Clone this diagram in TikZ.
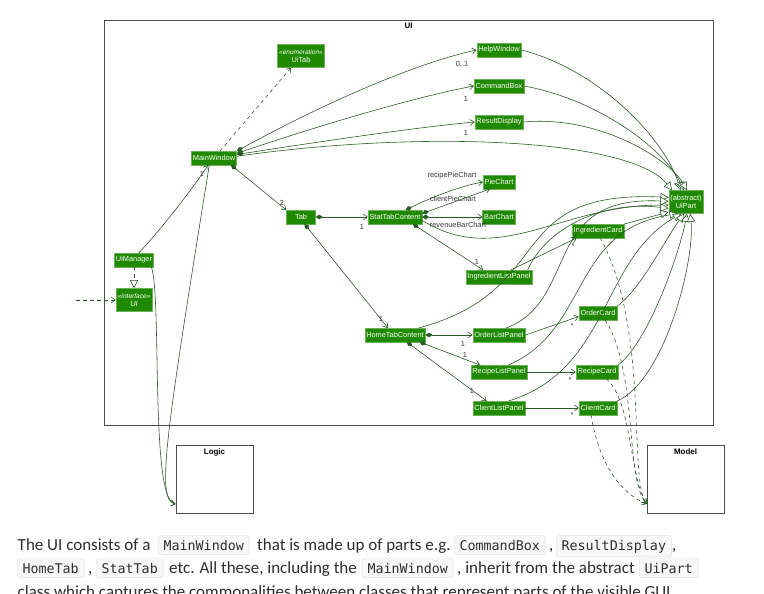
\documentclass[tikz,border=0pt]{standalone}
\usepackage{fontspec}
\setmainfont{Carlito}
\newfontfamily\umlfont{Liberation Sans}
\newfontfamily\codefont{DejaVu Sans Mono}
\usetikzlibrary{arrows.meta,fit}
\definecolor{umlgreen}{RGB}{31,137,0}
\definecolor{umlline}{RGB}{40,90,35}
\definecolor{umllabel}{RGB}{55,55,55}
\definecolor{codebg}{RGB}{248,248,248}
\definecolor{codeborder}{RGB}{222,222,222}

\begin{document}
\begin{tikzpicture}[x=0.03cm, y=-0.03cm,
    cls/.style={fill=umlgreen, draw=umlgreen!65!white, text=white, font=\umlfont\fontsize{6.3}{7.2}\selectfont, inner xsep=1.3pt, inner ysep=0pt, minimum height=11.5pt, align=center},
    pkg/.style={draw=black!70, line width=0.6pt, inner sep=0pt},
    pkgtitle/.style={font=\umlfont\bfseries\fontsize{6.8}{8}\selectfont, inner sep=0pt, below=3pt},
    lbl/.style={font=\umlfont\fontsize{6.3}{7}\selectfont, text=umllabel, inner sep=0pt},
    assoc/.style={draw=umlline, line width=0.5pt, -{Straight Barb[length=3.5pt,width=5pt]}},
    comp/.style={draw=umlline, line width=0.5pt, {Diamond[fill=umlline,length=6pt,width=4pt]}-{Straight Barb[length=3.5pt,width=5pt]}},
    ext/.style={draw=umlline, line width=0.5pt, -{Triangle[fill=white,length=7pt,width=7pt]}},
    dep/.style={assoc, dashed},
    body/.style={font=\fontsize{14.5}{17}\selectfont, text=black!82, anchor=base west, inner sep=0pt},
    code/.style={font=\codefont\fontsize{11.4}{14}\selectfont, fill=codebg, draw=codeborder, rounded corners=2pt, anchor=base west, inner xsep=4.5pt, inner ysep=3.5pt, text=black!82}
]
\fill[white] (0,0) rectangle (764,593);
\useasboundingbox (0,0) rectangle (764,593);

\node[pkg, fit={(104,20) (713,425)}] (uibox) {};
\node[pkgtitle] (uititle) at (uibox.north) {UI};
\node[pkg, fit={(176,445) (253,513)}] (logic) {};
\node[pkgtitle] (logictitle) at (logic.north) {Logic};
\node[pkg, fit={(647,445) (724,513)}] (model) {};
\node[pkgtitle] (modeltitle) at (model.north) {Model};

\node[cls, minimum height=19.5pt] (uitab) at (301,56) {{\itshape\fontsize{5.6}{6.4}\selectfont «enumeration»}\\UiTab};
\node[cls] (help) at (499,50) {HelpWindow};
\node[cls] (cmd) at (499,86) {CommandBox};
\node[cls] (res) at (499,122) {ResultDisplay};
\node[cls] (mw) at (214,158) {MainWindow};
\node[cls] (pie) at (499,182) {PieChart};
\node[cls] (bar) at (499,217) {BarChart};
\node[cls] (tab) at (301,217) {\hspace{6pt}Tab\hspace{6pt}};
\node[cls] (stat) at (395,217) {StatTabContent};
\node[cls, minimum height=19.5pt] (uipart) at (686,202) {(abstract)\\UiPart};
\node[cls] (icard) at (598,231) {IngredientCard};
\node[cls] (ipanel) at (499,277) {IngredientListPanel};
\node[cls] (uim) at (134,260) {UiManager};
\node[cls, minimum height=19.5pt] (uiif) at (134,300) {{\itshape\fontsize{5.6}{6.4}\selectfont «Interface»}\\{\itshape UI}};
\node[cls] (home) at (395,335) {HomeTabContent};
\node[cls] (opanel) at (499,335) {OrderListPanel};
\node[cls] (ocard) at (598,313) {OrderCard};
\node[cls] (rpanel) at (499,372) {RecipeListPanel};
\node[cls] (rcard) at (597,372) {RecipeCard};
\node[cls] (cpanel) at (499,408) {ClientListPanel};
\node[cls] (ccard) at (598,408) {ClientCard};
\coordinate (uisrc) at (76,300);

\draw[dep] (mw) -- (uitab);
\draw[comp] (mw.north east) .. controls (330,100) and (420,62) .. (help.west);
\node[lbl] (lhelp) at (462,64) {0..1};
\draw[comp] ([yshift=4pt]mw.east) .. controls (330,122) and (420,96) .. (cmd.west);
\node[lbl] (lcmd) at (466,99) {1};
\draw[comp] ([yshift=3pt]mw.east) .. controls (330,140) and (420,127) .. (res.west);
\node[lbl] (lres) at (466,133) {1};
\draw[ext] ([yshift=1.5pt]mw.east) .. controls (420,130) and (630,138) .. (uipart.140);
\draw[ext] (help.east) .. controls (600,70) and (665,140) .. (uipart.115);
\draw[ext] (cmd.east) .. controls (600,100) and (665,150) .. (uipart.100);
\draw[ext] (res.east) .. controls (600,115) and (670,160) .. (uipart.85);

\draw[comp] ([xshift=-5pt]mw.south east) -- (tab.north west);
\node[lbl] (ltab) at (282,203) {2};
\draw[comp] (tab.east) -- (stat.west);
\node[lbl] (lstat) at (362,227) {1};
\draw[comp] ([xshift=3pt]tab.south) -- ([xshift=-6pt]home.north);
\node[lbl] (lhome) at (381,319) {1};

\draw[comp] ([xshift=9pt]stat.north) .. controls (430,198) and (460,186) .. (pie.west);
\node[lbl] (lrecipe) at (452,176) {recipePieChart};
\draw[comp] ([yshift=3pt]stat.east) -- ([xshift=6pt]pie.south west);
\node[lbl] (lclient) at (453,199) {clientPieChart};
\draw[comp] (stat.east) -- (bar.west);
\node[lbl] (lrevenue) at (458,225) {revenueBarChart};
\draw[comp] ([xshift=-8pt]stat.south east) -- ([xshift=15pt]ipanel.north west);
\node[lbl] (lipanel) at (477,262) {1};
\draw[assoc] ([xshift=10pt]ipanel.north) -- ([xshift=4pt]icard.south west);
\node[lbl] (licard) at (573,246) {*};

\draw[comp] (home.east) -- (opanel.west);
\node[lbl] (lopanel) at (463,344) {1};
\draw[comp] ([xshift=-5pt]home.south east) -- ([xshift=8pt]rpanel.north west);
\node[lbl] (lrpanel) at (465,355) {1};
\draw[comp] ([xshift=10pt]home.south) -- ([xshift=12pt]cpanel.north west);
\node[lbl] (lcpanel) at (472,391) {1};
\draw[assoc] (opanel.east) -- ([yshift=-3pt]ocard.west);
\node[lbl] (locard) at (572,326) {*};
\draw[assoc] (rpanel.east) -- (rcard.west);
\node[lbl] (lrcard) at (570,380) {*};
\draw[assoc] (cpanel.east) -- (ccard.west);
\node[lbl] (lccard) at (572,415) {*};

\draw[ext] ([yshift=-3pt]stat.east) .. controls (500,268) and (560,205) .. (uipart.190);
\draw[ext] ([xshift=-4pt]ipanel.north east) .. controls (545,230) and (600,200) .. (uipart.200);
\draw[ext] (icard.north east) -- (uipart.210);
\draw[ext] ([xshift=-6pt]home.north east) .. controls (560,290) and (500,190) .. (uipart.165);
\draw[ext] ([xshift=6pt]opanel.north) .. controls (580,300) and (540,195) .. (uipart.178);
\draw[ext] ([xshift=8pt]rpanel.north) .. controls (590,330) and (570,230) .. (uipart.235);
\draw[ext] ([xshift=8pt]cpanel.north) .. controls (610,370) and (600,260) .. (uipart.248);
\draw[ext] (ocard.north east) .. controls (640,290) and (665,240) .. (uipart.260);
\draw[ext] (rcard.north east) .. controls (650,340) and (680,250) .. (uipart.275);
\draw[ext] (ccard.north east) .. controls (665,380) and (695,260) .. (uipart.290);

\draw[assoc] ([xshift=4pt]uim.north) .. controls (165,225) and (195,185) .. ([xshift=-5pt]mw.south);
\node[lbl] (lmw) at (202,174) {1};
\draw[ext, dashed] (uim) -- (uiif);
\draw[dep] (uisrc) -- (uiif.west);
\draw[assoc] ([xshift=-4pt]mw.south) .. controls (165,440) and (156,500) .. ([yshift=8pt]logic.south west);
\draw[assoc] ([xshift=-2pt]uim.south east) .. controls (162,300) and (150,500) .. ([yshift=8pt]logic.south west);

\draw[dep] ([xshift=2pt]icard.south) .. controls (650,330) and (628,480) .. ([yshift=8pt]model.south west);
\draw[dep] ([xshift=6pt]ocard.south) .. controls (638,370) and (625,480) .. ([yshift=8pt]model.south west);
\draw[dep] ([xshift=8pt]rcard.south) .. controls (632,400) and (630,480) .. ([yshift=8pt]model.south west);
\draw[dep] ([xshift=-6pt]ccard.south) .. controls (600,470) and (625,495) .. ([yshift=8pt]model.south west);

\node[body] (t1) at (17.5,550) {The UI consists of a};
\node[code] (c1) at (158,550) {MainWindow};
\node[body] (t2) at (257,550) {that is made up of parts e.g.};
\node[code] (c2) at (454,550) {CommandBox};
\node[body] (t3) at (549,550) {,};
\node[code] (c3) at (556,550) {ResultDisplay};
\node[body] (t4) at (672,550) {,};
\node[code] (c4) at (17,573) {HomeTab};
\node[body] (t5) at (88,573) {,};
\node[code] (c5) at (96,573) {StatTab};
\node[body] (t6) at (169,573) {etc. All these, including the};
\node[code] (c6) at (362,573) {MainWindow};
\node[body] (t7) at (457,573) {, inherit from the abstract};
\node[code] (c7) at (639,573) {UiPart};
\node[body] (t8) at (17.5,597) {class which captures the commonalities between classes that represent parts of the visible GUI.};
\end{tikzpicture}
\end{document}
